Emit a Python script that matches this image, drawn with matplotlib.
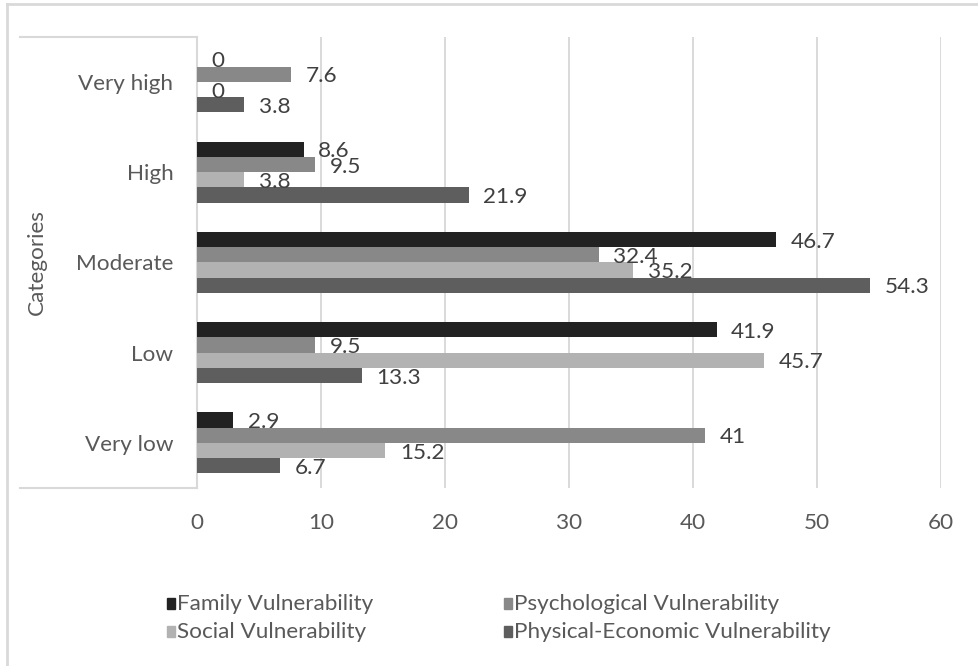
import matplotlib
matplotlib.use("Agg")
import matplotlib.pyplot as plt
from matplotlib.lines import Line2D
from matplotlib.patches import Rectangle
import numpy as np

# Categories listed bottom-to-top as they appear on the vertical axis
categories = ["Very low", "Low", "Moderate", "High", "Very high"]

family = [2.9, 41.9, 46.7, 8.6, 0]
psychological = [41, 9.5, 32.4, 9.5, 7.6]
social = [15.2, 45.7, 35.2, 3.8, 0]
physical_economic = [6.7, 13.3, 54.3, 21.9, 3.8]

series_names = ["Family Vulnerability", "Psychological Vulnerability",
                "Social Vulnerability", "Physical-Economic Vulnerability"]
series_values = [family, psychological, social, physical_economic]
series_colors = ["#222222", "#888888", "#b2b2b2", "#5e5e5e"]

x_ticks = [0, 10, 20, 30, 40, 50, 60]

FONT = ["Lato", "DejaVu Sans"]
plt.rcParams["font.family"] = FONT
TEXT = "#595959"
LABEL = "#404040"
LINE = "#d9d9d9"
FS = 16.2

W, H = 979, 666
fig = plt.figure(figsize=(W / 100, H / 100), dpi=100)


def fx(px):
    return px / W


def fy(py):
    return 1 - py / H


ax = fig.add_axes([fx(197), fy(488), fx(941) - fx(197), fy(36.7) - fy(488)])

bar_h = 0.169
offsets = [1.5, 0.5, -0.5, -1.5]
y_base = np.arange(len(categories))

for vals, color, off in zip(series_values, series_colors, offsets):
    ys = y_base + off * bar_h
    ax.barh(ys, vals, height=bar_h, color=color, zorder=3)
    for y, v in zip(ys, vals):
        ax.annotate(f"{v:g}", xy=(v, y), xytext=(10.5, -1.5),
                    textcoords="offset points", ha="left", va="center",
                    fontsize=FS, color=LABEL, zorder=4)

ax.set_xlim(0, 60)
ax.set_ylim(-0.5, len(categories) - 0.5)
ax.set_xticks(x_ticks)
ax.set_xticklabels([str(t) for t in x_ticks])
ax.set_yticks(y_base)
ax.set_yticklabels(categories)
ax.tick_params(axis="x", length=0, pad=18, labelsize=FS, labelcolor=TEXT)
ax.tick_params(axis="y", length=0, pad=17, labelsize=FS, labelcolor=TEXT)

for side in ["top", "right", "bottom"]:
    ax.spines[side].set_visible(False)
ax.spines["left"].set_color(LINE)
ax.spines["left"].set_linewidth(1.5)
ax.xaxis.grid(True, color=LINE, linewidth=1.4, zorder=0)
ax.set_axisbelow(True)

# Box lines around the category-label area
for py in (36.7, 488):
    fig.add_artist(Line2D([fx(20), fx(197)], [fy(py), fy(py)],
                          color=LINE, linewidth=1.5))

# Chart-area border
fig.add_artist(Line2D([fx(7), fx(979)], [fy(4), fy(4)], color=LINE, linewidth=2))
fig.add_artist(Line2D([fx(7), fx(7)], [fy(4), fy(666)], color=LINE, linewidth=2))

fig.text(fx(37), fy(262), "Categories", rotation=90, ha="center", va="center",
         fontsize=FS, color=TEXT)

# Legend laid out in two columns
legend_pos = [(167, 604), (504, 604), (167, 632), (504, 632)]
for name, color, (lx, ly) in zip(series_names, series_colors, legend_pos):
    fig.add_artist(Rectangle((fx(lx), fy(ly + 5)), fx(8), 11 / H,
                             color=color, transform=fig.transFigure))
    fig.text(fx(lx + 10), fy(ly), name, ha="left", va="center",
             fontsize=FS, color=TEXT)

fig.savefig("out.png", dpi=100)
